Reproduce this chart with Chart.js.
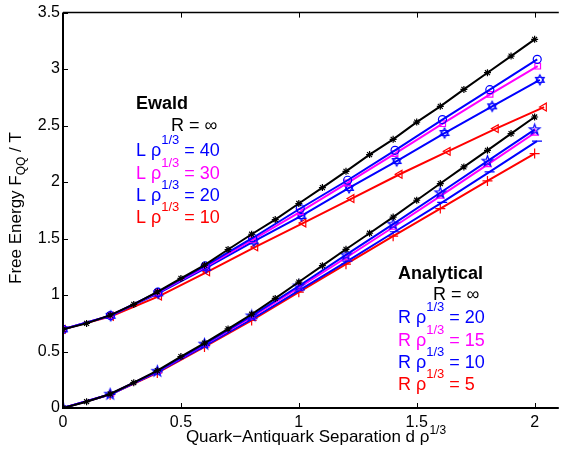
<!DOCTYPE html>
<html>
<head>
<meta charset="utf-8">
<script src="https://cdn.jsdelivr.net/npm/chart.js@4.4.1/dist/chart.umd.min.js"></script>
<style>
html,body{margin:0;padding:0;background:#fff;}
#wrap{width:563px;height:452px;position:relative;}
</style>
</head>
<body>
<div id="wrap"><canvas id="c" width="563" height="452"></canvas></div>
<script>
// ---- data ----
const xTicks = [0, 0.5, 1, 1.5, 2];
const xTickLabels = ["0", "0.5", "1", "1.5", "2"];
const yTicks = [0, 0.5, 1, 1.5, 2, 2.5, 3, 3.5];
const yTickLabels = ["0", "0.5", "1", "1.5", "2", "2.5", "3", "3.5"];

const xFine = [0,0.1,0.2,0.3,0.4,0.5,0.6,0.7,0.8,0.9,1.0,1.1,1.2,1.3,1.4,1.5,1.6,1.7,1.8,1.9,2.0];
const xCoarse = [0,0.2,0.4,0.6,0.8,1.0,1.2,1.4,1.6,1.8,2.0];

// Ewald
const ewaldInf = [0.696,0.749,0.822,0.917,1.028,1.147,1.264,1.403,1.538,1.668,1.81,1.951,2.095,2.243,2.378,2.531,2.67,2.82,2.968,3.115,3.263];
const xL40 = [0,0.201,0.402,0.603,0.804,1.006,1.207,1.408,1.609,1.810,2.011];
const ewaldL40 = [0.696,0.818,1.025,1.258,1.505,1.766,2.016,2.281,2.553,2.818,3.086];
const xL30 = [0,0.201,0.402,0.604,0.805,1.006,1.207,1.408,1.610,1.811,2.013];
const ewaldL30 = [0.696,0.818,1.022,1.25,1.49,1.736,1.992,2.252,2.517,2.776,3.026];
const xL20 = [0,0.202,0.404,0.607,0.809,1.011,1.213,1.415,1.618,1.820,2.022];
const ewaldL20 = [0.696,0.816,1.015,1.24,1.475,1.70,1.948,2.186,2.434,2.67,2.905];
const xL10 = [0,0.204,0.408,0.612,0.816,1.02,1.224,1.428,1.632,1.836,2.04];
const ewaldL10 = [0.696,0.812,0.99,1.205,1.426,1.638,1.854,2.069,2.272,2.473,2.664];

// Analytical
const anaInf = [0,0.056,0.124,0.224,0.33,0.455,0.575,0.70,0.83,0.97,1.115,1.26,1.405,1.547,1.69,1.839,1.987,2.134,2.281,2.429,2.576];
const anaR20 = [0,0.122,0.325,0.565,0.815,1.08,1.355,1.627,1.905,2.185,2.464];
const anaR15 = [0,0.122,0.323,0.56,0.805,1.065,1.33,1.60,1.875,2.155,2.434];
const xR10 = [0,0.201,0.402,0.603,0.804,1.005,1.206,1.407,1.608,1.809,2.01];
const anaR10 = [0,0.12,0.32,0.553,0.79,1.045,1.30,1.56,1.82,2.09,2.363];
const anaR5 = [0,0.118,0.31,0.54,0.775,1.025,1.273,1.521,1.765,2.01,2.252];

// ---- styling ----
const BLACK = '#000000', BLUE = '#0000ff', MAG = '#ff00ff', RED = '#ff0000';
const FONT = '"Liberation Sans", Arial, Helvetica, sans-serif';

function makeStarCanvas(points, color, r, innerRatio, hexa) {
  const s = Math.ceil(2 * r + 4);
  const cv = document.createElement('canvas');
  cv.width = s; cv.height = s;
  const g = cv.getContext('2d');
  g.strokeStyle = color; g.lineWidth = 1.2;
  const c = s / 2;
  if (hexa) {
    for (let t = 0; t < 2; t++) {
      g.beginPath();
      for (let i = 0; i < 3; i++) {
        const a = -Math.PI / 2 + t * Math.PI + i * 2 * Math.PI / 3;
        const px = c + r * Math.cos(a), py = c + r * Math.sin(a);
        if (i === 0) g.moveTo(px, py); else g.lineTo(px, py);
      }
      g.closePath(); g.stroke();
    }
  } else {
    g.beginPath();
    for (let i = 0; i < points * 2; i++) {
      const rr = i % 2 === 0 ? r : r * innerRatio;
      const a = -Math.PI / 2 + i * Math.PI / points;
      const px = c + rr * Math.cos(a), py = c + rr * Math.sin(a);
      if (i === 0) g.moveTo(px, py); else g.lineTo(px, py);
    }
    g.closePath(); g.stroke();
  }
  return cv;
}
const hexBlue = makeStarCanvas(6, BLUE, 5, 0, true);
const pentBlue = makeStarCanvas(5, BLUE, 5.5, 0.4, false);

function pts(xs, ys) { return xs.map((x, i) => ({x: x, y: ys[i]})); }
function ds(label, xs, ys, color, style, radius, extra) {
  return Object.assign({
    label: label, data: pts(xs, ys), showLine: true,
    borderColor: color, backgroundColor: 'rgba(0,0,0,0)',
    pointBorderColor: color, pointBackgroundColor: 'rgba(0,0,0,0)',
    borderWidth: 2, pointBorderWidth: 1.2, pointStyle: style,
    pointRadius: radius, pointHoverRadius: radius, tension: 0
  }, extra || {});
}

const datasets = [
  ds('Ewald R=inf', xFine, ewaldInf, BLACK, 'star', 3.5),
  ds('Analytical R=inf', xFine, anaInf, BLACK, 'star', 3.5),
  ds('Ewald L40', xL40, ewaldL40, BLUE, 'circle', 4),
  ds('Ewald L30', xL30, ewaldL30, MAG, 'rect', 4),
  ds('Ewald L20', xL20, ewaldL20, BLUE, hexBlue, 5),
  ds('Ewald L10', xL10, ewaldL10, RED, 'triangle', 4.5, {pointRotation: -90}),
  ds('Analytical R20', xCoarse, anaR20, BLUE, pentBlue, 5),
  ds('Analytical R15', xCoarse, anaR15, MAG, 'triangle', 4),
  ds('Analytical R10', xR10, anaR10, BLUE, 'line', 5),
  ds('Analytical R5', xCoarse, anaR5, RED, 'cross', 5)
];

// rich text helper: parts = [[text, fontSize, bold, dy]]
function drawRich(ctx, parts, x, y, color) {
  ctx.fillStyle = color;
  ctx.textBaseline = 'alphabetic';
  ctx.textAlign = 'left';
  let cx = x;
  for (const p of parts) {
    ctx.font = (p[2] ? 'bold ' : '') + p[1] + 'px ' + FONT;
    ctx.fillText(p[0], cx, y + (p[3] || 0));
    cx += ctx.measureText(p[0]).width;
  }
}
function richWidth(ctx, parts) {
  let w = 0;
  for (const p of parts) {
    ctx.font = (p[2] ? 'bold ' : '') + p[1] + 'px ' + FONT;
    w += ctx.measureText(p[0]).width;
  }
  return w;
}

const decor = {
  id: 'decor',
  afterDraw(chart) {
    const ctx = chart.ctx;
    const a = chart.chartArea;
    const xs = chart.scales.x, ys = chart.scales.y;
    ctx.save();
    ctx.strokeStyle = '#000';
    // axes box
    ctx.lineWidth = 2;
    ctx.beginPath();
    ctx.moveTo(a.left, a.top); ctx.lineTo(a.left, a.bottom); ctx.lineTo(a.right + 2, a.bottom);
    ctx.stroke();
    ctx.lineWidth = 1.5;
    ctx.beginPath();
    ctx.moveTo(a.left, a.top); ctx.lineTo(a.right + 2, a.top);
    ctx.stroke();
    // inward ticks
    ctx.lineWidth = 1;
    ctx.beginPath();
    for (const v of xTicks) {
      const px = Math.round(xs.getPixelForValue(v)) + 0.5;
      ctx.moveTo(px, a.bottom); ctx.lineTo(px, a.bottom - 5);
      ctx.moveTo(px, a.top); ctx.lineTo(px, a.top + 5);
    }
    for (const v of yTicks) {
      const py = Math.round(ys.getPixelForValue(v)) + 0.5;
      ctx.moveTo(a.left, py); ctx.lineTo(a.left + 5, py);
    }
    ctx.stroke();

    // x title
    const xt = [['Quark\u2212Antiquark Separation d \u03c1', 17, false, 0], ['1/3', 12, false, -8]];
    const xw = richWidth(ctx, xt);
    drawRich(ctx, xt, 316 - xw / 2, 442, '#000');

    // y title (rotated)
    ctx.save();
    ctx.translate(21, 208);
    ctx.rotate(-Math.PI / 2);
    const yt = [['Free Energy F', 17, false, 0], ['QQ', 12, false, 4], [' / T', 17, false, 0]];
    const yw = richWidth(ctx, yt);
    drawRich(ctx, yt, -yw / 2, 0, '#000');
    ctx.restore();

    // Ewald legend
    drawRich(ctx, [['Ewald', 18, true, 0]], 136, 109, BLACK);
    drawRich(ctx, [['R = \u221e', 18, false, 0]], 171, 131, BLACK);
    const ew = [['40', BLUE, 156], ['30', MAG, 178.5], ['20', BLUE, 200.5], ['10', RED, 222.5]];
    for (const e of ew) {
      drawRich(ctx, [['L \u03c1', 18, false, 0], ['1/3', 13, false, -12], [' = ' + e[0], 18, false, 0]], 136, e[2], e[1]);
    }
    // Analytical legend
    drawRich(ctx, [['Analytical', 18, true, 0]], 398, 279, BLACK);
    drawRich(ctx, [['R = \u221e', 18, false, 0]], 433, 300, BLACK);
    const an = [['20', BLUE, 323.3], ['15', MAG, 346], ['10', BLUE, 368.3], ['5', RED, 390]];
    for (const e of an) {
      drawRich(ctx, [['R \u03c1', 18, false, 0], ['1/3', 13, false, -12], [' = ' + e[0], 18, false, 0]], 398, e[2], e[1]);
    }
    ctx.restore();
  }
};

new Chart(document.getElementById('c'), {
  type: 'scatter',
  data: { datasets: datasets },
  options: {
    responsive: false,
    animation: false,
    devicePixelRatio: 1,
    layout: { padding: { top: 12, right: 0, left: 0, bottom: 0 } },
    plugins: { legend: { display: false }, tooltip: { enabled: false }, title: { display: false } },
    scales: {
      x: {
        type: 'linear', min: 0, max: 2.094,
        grid: { display: false, drawTicks: false },
        border: { display: false },
        afterBuildTicks: (s) => { s.ticks = xTicks.map(v => ({ value: v })); },
        afterFit: (s) => { s.height = 44; },
        ticks: {
          color: '#000', font: { family: FONT, size: 16 }, padding: 5,
          maxRotation: 0, autoSkip: false,
          callback: (v) => { const i = xTicks.indexOf(v); return i >= 0 ? xTickLabels[i] : ''; }
        }
      },
      y: {
        type: 'linear', min: 0, max: 3.5,
        grid: { display: false, drawTicks: false },
        border: { display: false },
        afterBuildTicks: (s) => { s.ticks = yTicks.map(v => ({ value: v })); },
        afterFit: (s) => { s.width = 63; },
        ticks: {
          color: '#000', font: { family: FONT, size: 16 }, padding: 3, autoSkip: false,
          callback: (v) => { const i = yTicks.indexOf(v); return i >= 0 ? yTickLabels[i] : ''; }
        }
      }
    }
  },
  plugins: [decor]
});
</script>
</body>
</html>
